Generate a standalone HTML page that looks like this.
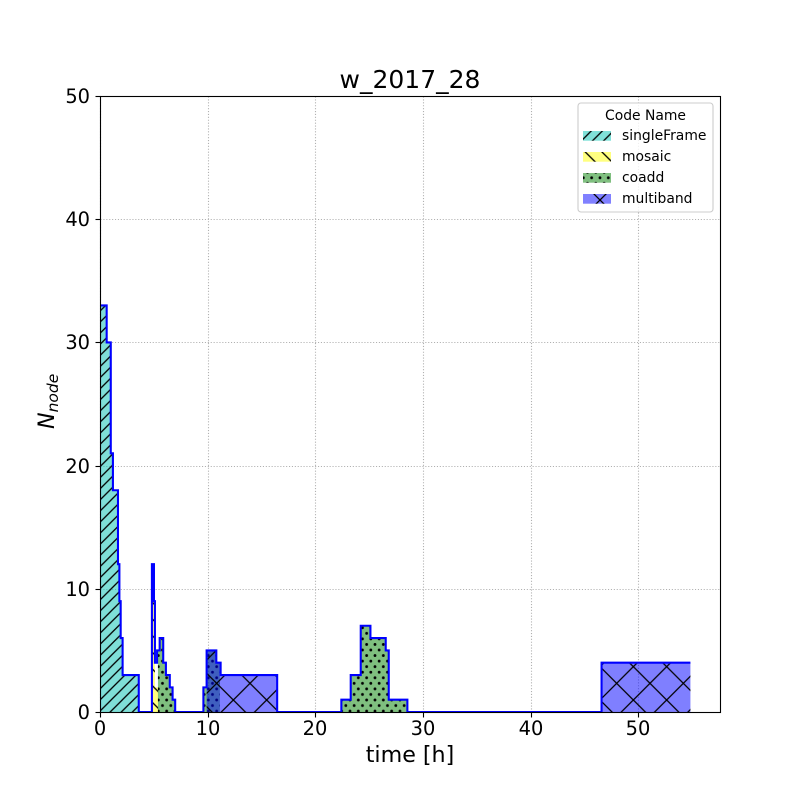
<!DOCTYPE html>
<html>
<head>
<meta charset="utf-8">
<title>w_2017_28</title>
<style>
html,body{margin:0;padding:0;background:#fff;}
svg{display:block;}
text{font-family:"DejaVu Sans","Liberation Sans",sans-serif;fill:#000;}
</style>
</head>
<body>
<svg id="chart" xmlns="http://www.w3.org/2000/svg" width="800" height="800" viewBox="0 0 800 800">
  <defs>
    <pattern id="hatch-single" patternUnits="userSpaceOnUse" width="11.111" height="11.111">
      <path d="M-2 2L2 -2M0 11.111L11.111 0M9.111 13.111L13.111 9.111" stroke="#000" stroke-width="1.3" fill="none"/>
    </pattern>
    <pattern id="hatch-mosaic" patternUnits="userSpaceOnUse" width="16.667" height="16.667">
      <path d="M-2 14.667L2 18.667M0 0L16.667 16.667M14.667 -2L18.667 2" stroke="#000" stroke-width="1.3" fill="none"/>
    </pattern>
    <pattern id="hatch-coadd" patternUnits="userSpaceOnUse" width="8.333" height="11.111">
      <circle cx="0" cy="0" r="1.4" fill="#000"/>
      <circle cx="8.333" cy="0" r="1.4" fill="#000"/>
      <circle cx="0" cy="11.111" r="1.4" fill="#000"/>
      <circle cx="8.333" cy="11.111" r="1.4" fill="#000"/>
      <circle cx="4.167" cy="5.556" r="1.4" fill="#000"/>
    </pattern>
    <pattern id="hatch-multi" patternUnits="userSpaceOnUse" width="33.333" height="33.333">
      <path d="M0 0L33.333 33.333M0 33.333L33.333 0" stroke="#000" stroke-width="1.3" fill="none"/>
    </pattern>
    <clipPath id="axes-clip"><rect x="100" y="96" width="620" height="617"/></clipPath>
  </defs>

  <rect x="0" y="0" width="800" height="800" fill="#fff"/>
  <rect x="100.5" y="96.5" width="620" height="616" fill="#fff"/>
  <g id="grid"></g>
  <g id="fills" clip-path="url(#axes-clip)"></g>
  <g id="outline" clip-path="url(#axes-clip)"></g>
  <g id="ticks"></g>
  <rect x="100.5" y="96.5" width="620" height="616" fill="none" stroke="#000" stroke-width="1.1"/>

  <text x="410" y="88" font-size="25" text-anchor="middle">w_2017_28</text>
  <text x="410" y="762" font-size="22.2" text-anchor="middle">time [h]</text>
  <text transform="translate(54,429) rotate(-90)" font-size="22.2" font-style="italic">N<tspan font-size="15.5" dy="4">node</tspan></text>

  <g>
    <rect x="578" y="103" width="135" height="109" rx="3" ry="3" fill="#fff" fill-opacity="0.8" stroke="#ccc" stroke-width="1.1"/>
    <text x="645.5" y="120" font-size="13.9" text-anchor="middle">Code Name</text>

    <g>
      <rect x="583" y="131" width="28" height="9.7" fill="#80e0d8"/>
      <rect x="583" y="131" width="28" height="9.7" fill="url(#hatch-single)"/>
      <text x="622" y="140" font-size="13.9">singleFrame</text>
    </g>
    <g>
      <rect x="583" y="152" width="28" height="9.7" fill="#ffff80"/>
      <rect x="583" y="152" width="28" height="9.7" fill="url(#hatch-mosaic)"/>
      <text x="622" y="161" font-size="13.9">mosaic</text>
    </g>
    <g>
      <rect x="583" y="173" width="28" height="9.7" fill="#80bf80"/>
      <rect x="583" y="173" width="28" height="9.7" fill="url(#hatch-coadd)"/>
      <text x="622" y="182" font-size="13.9">coadd</text>
    </g>
    <g>
      <rect x="583" y="194" width="28" height="9.7" fill="#8080ff"/>
      <rect x="583" y="194" width="28" height="9.7" fill="url(#hatch-multi)"/>
      <text x="622" y="203" font-size="13.9">multiband</text>
    </g>
  </g>
</svg>

<script>
var xTickValues = [0, 10, 20, 30, 40, 50];
var yTickValues = [0, 10, 20, 30, 40, 50];

var singleFrameTimes = [0, 0.62, 1.0, 1.2, 1.67, 1.8, 1.92, 2.1, 3.6];
var singleFrameNodes = [33, 30, 21, 18, 12, 9, 6, 3, 0];

var mosaicTimes = [4.85, 5.1, 5.4];
var mosaicNodes = [9, 2, 0];

var coaddTimes = [5.38, 5.54, 5.87, 6.12, 6.48, 6.74, 6.98, 9.6, 9.9, 10.8, 11.13, 22.41, 23.28, 24.21, 25.11, 26.53, 26.81, 28.54];
var coaddNodes = [5, 6, 4, 3, 2, 1, 0, 2, 5, 4, 0, 1, 3, 7, 6, 5, 1, 0];

var multibandTimes = [9.9, 10.8, 11.2, 16.45, 46.57, 54.82];
var multibandNodes = [5, 4, 3, 0, 4, 0];

var totalTimes = [0, 0.62, 1.0, 1.2, 1.67, 1.8, 1.92, 2.1, 3.6, 4.82, 5.01, 5.1, 5.3, 5.54, 5.87, 6.12, 6.48, 6.74, 6.98, 9.6, 9.9, 10.8, 11.2, 16.45, 22.41, 23.28, 24.21, 25.11, 26.53, 26.81, 28.54, 46.57, 54.82];
var totalNodes = [33, 30, 21, 18, 12, 9, 6, 3, 0, 12, 9, 4, 5, 6, 4, 3, 2, 1, 0, 2, 5, 4, 3, 0, 1, 3, 7, 6, 5, 1, 0, 4, 4];

var NS = 'http://www.w3.org/2000/svg';

function xScale(t) { return 100 + t * 10.77; }
function yScale(v) { return 712 - v * 12.32; }
function snap(p) { return Math.round(p - 0.01) + 0.5; }

function makeEl(tag, attrs, parent) {
  var el = document.createElementNS(NS, tag);
  for (var k in attrs) { el.setAttribute(k, attrs[k]); }
  parent.appendChild(el);
  return el;
}

function stepFillPath(times, nodes) {
  var d = 'M' + xScale(times[0]) + ' ' + yScale(0);
  for (var i = 0; i < times.length - 1; i++) {
    d += 'L' + xScale(times[i]) + ' ' + yScale(nodes[i]);
    d += 'L' + xScale(times[i + 1]) + ' ' + yScale(nodes[i]);
  }
  d += 'L' + xScale(times[times.length - 1]) + ' ' + yScale(0) + 'Z';
  return d;
}

function stepLinePath(times, nodes) {
  var d = 'M' + xScale(times[0]) + ' ' + yScale(0);
  for (var i = 0; i < times.length - 1; i++) {
    d += 'L' + xScale(times[i]) + ' ' + yScale(nodes[i]);
    d += 'L' + xScale(times[i + 1]) + ' ' + yScale(nodes[i]);
  }
  return d;
}

var gridGroup = document.getElementById('grid');
var ticksGroup = document.getElementById('ticks');
var fillsGroup = document.getElementById('fills');
var outlineGroup = document.getElementById('outline');

xTickValues.forEach(function (v) {
  var x = snap(xScale(v));
  var gridLine = makeEl('line', {x1: x, x2: x, y1: 96.5, y2: 712.5, stroke: '#b0b0b0', 'stroke-width': 1.1, 'stroke-dasharray': '1.1 1.8'}, gridGroup);
  
  
  var tick = makeEl('line', {x1: x, x2: x, y1: 712.5, y2: 717.5, stroke: '#000', 'stroke-width': 1.1}, ticksGroup);
  
  
  var label = makeEl('text', {x: x - 0.5, y: 735, 'font-size': 19.4, 'text-anchor': 'middle'}, ticksGroup);
  
  
  label.textContent = String(v);
});

yTickValues.forEach(function (v) {
  var y = snap(yScale(v));
  var gridLine = makeEl('line', {x1: 100.5, x2: 720.5, y1: y, y2: y, stroke: '#b0b0b0', 'stroke-width': 1.1, 'stroke-dasharray': '1.1 1.8'}, gridGroup);
  
  
  var tick = makeEl('line', {x1: 95.5, x2: 100.5, y1: y, y2: y, stroke: '#000', 'stroke-width': 1.1}, ticksGroup);
  
  
  var label = makeEl('text', {x: 90, y: y + 6.5, 'font-size': 19.4, 'text-anchor': 'end'}, ticksGroup);
  
  
  label.textContent = String(v);
});

function drawSeries(times, nodes, color, hatch) {
  var d = stepFillPath(times, nodes);
  var area = makeEl('path', {d: d, fill: color, 'fill-opacity': 0.5}, fillsGroup);
  
  
  var pattern = makeEl('path', {d: d, fill: 'url(#' + hatch + ')'}, fillsGroup);
  
  
}

drawSeries(singleFrameTimes, singleFrameNodes, '#00c0b0', 'hatch-single');
drawSeries(mosaicTimes, mosaicNodes, '#ffff00', 'hatch-mosaic');
drawSeries(coaddTimes, coaddNodes, '#008000', 'hatch-coadd');
drawSeries(multibandTimes, multibandNodes, '#0000ff', 'hatch-multi');

var line = makeEl('path', {d: stepLinePath(totalTimes, totalNodes), fill: 'none', stroke: '#0000ff', 'stroke-width': 2.08, 'stroke-linejoin': 'miter'}, outlineGroup);


</script>
</body>
</html>
